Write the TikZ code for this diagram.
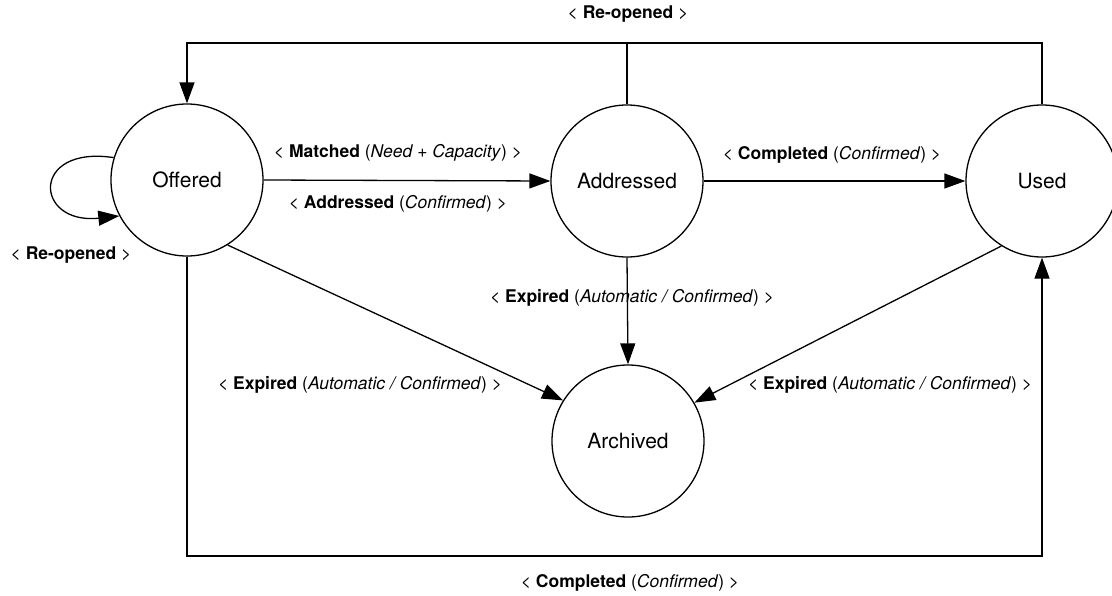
\documentclass[tikz,border=0pt]{standalone}
\usepackage{fontspec}
\setmainfont{TeX Gyre Heros}
\usetikzlibrary{arrows.meta}
\begin{document}
\begin{tikzpicture}[x=1pt,y=-1pt,
  state/.style={circle,draw,line width=1.3pt,minimum size=152pt,inner sep=0pt,font=\fontsize{21}{25}\selectfont},
  lbl/.style={font=\fontsize{17.5}{21}\selectfont,inner sep=0pt},
  conn/.style={line width=1.3pt,line join=miter},
  arr/.style={conn,-{Triangle[length=21pt,width=15pt]}}]
\useasboundingbox (0,0) rectangle (1112,595);
\node[state] (off) at (187,180) {Offered};
\node[state] (add) at (627,181) {Addressed};
\node[state] (used) at (1042,181) {Used};
\node[state] (arch) at (628,441) {Archived};
% self loop
\draw[arr] (off.163) .. controls (30,145) and (34,225) .. (off.208);
\node[lbl] (lloop) at (71,255) {< \textbf{Re-opened} >};
% top re-opened
\coordinate (tl) at (187,43);
\coordinate (tr) at (1042,43);
\draw[arr] (used.north) -- (tr) -- (tl) -- (off.north);
\draw[conn] (add.north) -- (add.north |- tl);
\node[lbl] (ltop) at (628,14) {< \textbf{Re-opened} >};
% offered -> addressed
\draw[arr] (off.east) -- (add.west);
\node[lbl] (lmatch) at (398,153) {< \textbf{Matched} (\textit{Need + Capacity}) >};
\node[lbl] (laddr) at (398,204) {< \textbf{Addressed} (\textit{Confirmed}) >};
% addressed -> used
\draw[arr] (add.east) -- (used.west);
\node[lbl] (lcomp) at (832,155) {< \textbf{Completed} (\textit{Confirmed}) >};
% addressed -> archived
\draw[arr] (add.south) -- (arch.north);
\node[lbl] (lexpm) at (632,298) {< \textbf{Expired} (\textit{Automatic / Confirmed}) >};
% offered -> archived
\draw[arr] (off.-58) -- (arch.148);
\node[lbl] (lexpl) at (360,385) {< \textbf{Expired} (\textit{Automatic / Confirmed}) >};
% used -> archived
\draw[arr] (used.238) -- (arch.30);
\node[lbl] (lexpr) at (890,385) {< \textbf{Expired} (\textit{Automatic / Confirmed}) >};
% bottom completed
\coordinate (bl) at (187,556);
\coordinate (br) at (1042,556);
\draw[arr] (off.south) -- (bl) -- (br) -- (used.south);
\node[lbl] (lbot) at (630,583) {< \textbf{Completed} (\textit{Confirmed}) >};
\end{tikzpicture}
\end{document}
